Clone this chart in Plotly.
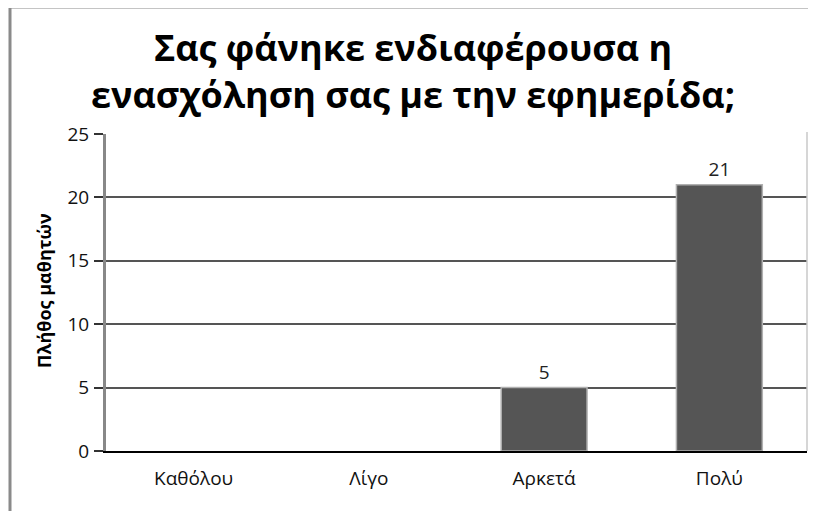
import plotly.graph_objects as go

categories = ["Καθόλου", "Λίγο", "Αρκετά", "Πολύ"]
values = [0, 0, 5, 21]
labels = ["", "", "5", "21"]
y_ticks = [0, 5, 10, 15, 20, 25]

title_text = "Σας φάνηκε ενδιαφέρουσα η<br>ενασχόληση σας με την εφημερίδα;"
y_title = "Πλήθος μαθητών"

# the page body has an 8px margin; figure is sized so it fills the window
OFF = 8
W, H = 816 - OFF, 511 - OFF
ml, mr, mt, mb = 106 - OFF, 9, 134 - OFF, 60
pw, ph = W - ml - mr, H - mt - mb

def px_x(px):
    return (px - OFF - ml) / pw

def px_y(py):
    return 1 - (py - OFF - mt) / ph

fig = go.Figure()
fig.add_trace(go.Bar(
    x=categories, y=values,
    text=labels, textposition="outside",
    textfont=dict(family="Open Sans", size=19, color="#222"),
    cliponaxis=False,
    width=0.49,
    marker=dict(color="#555555",
                line=dict(color="#b0b0b0", width=[1.5 if v > 0 else 0 for v in values])),
))

fig.update_layout(
    width=W, height=H,
    margin=dict(l=ml, r=mr, t=mt, b=mb),
    paper_bgcolor="white", plot_bgcolor="white",
    showlegend=False,
    title=dict(text=title_text, x=(413 - OFF) / W, xanchor="center", y=1 - (61 - OFF) / H, yanchor="middle",
               font=dict(family="Open Sans", size=36, color="#000", weight="bold")),
    xaxis=dict(showline=True, linecolor="#000", linewidth=2, ticks="",
               tickfont=dict(family="Open Sans", size=19, color="#111"),
               ticklabelstandoff=9,
               showgrid=False),
    yaxis=dict(range=[0, 25], tickvals=y_ticks, showgrid=True, gridcolor="#555", gridwidth=2,
               showline=True, linecolor="#888", linewidth=3,
               ticks="outside", ticklen=9, tickcolor="#333", tickwidth=2,
               tickfont=dict(family="Open Sans", size=19, color="#111"),
               ticklabelstandoff=1,
               zeroline=False),
    shapes=[
        dict(type="line", xref="paper", yref="paper", x0=px_x(10), x1=px_x(10), y0=px_y(530), y1=px_y(6),
             line=dict(color="#8a8a8a", width=3)),
        dict(type="line", xref="paper", yref="paper", x0=px_x(9), x1=px_x(830), y0=px_y(7), y1=px_y(7),
             line=dict(color="#8a8a8a", width=3)),
        dict(type="line", xref="paper", yref="paper", x0=1, x1=1, y0=0, y1=px_y(132),
             line=dict(color="#c8c8c8", width=1.5)),
    ],
    annotations=[
        dict(text=y_title, xref="paper", yref="paper", x=px_x(44), y=px_y(291), textangle=-90,
             showarrow=False, xanchor="center", yanchor="middle",
             font=dict(family="Open Sans", size=18, color="#000", weight="bold")),
    ],
)

fig.write_html("out.html")
